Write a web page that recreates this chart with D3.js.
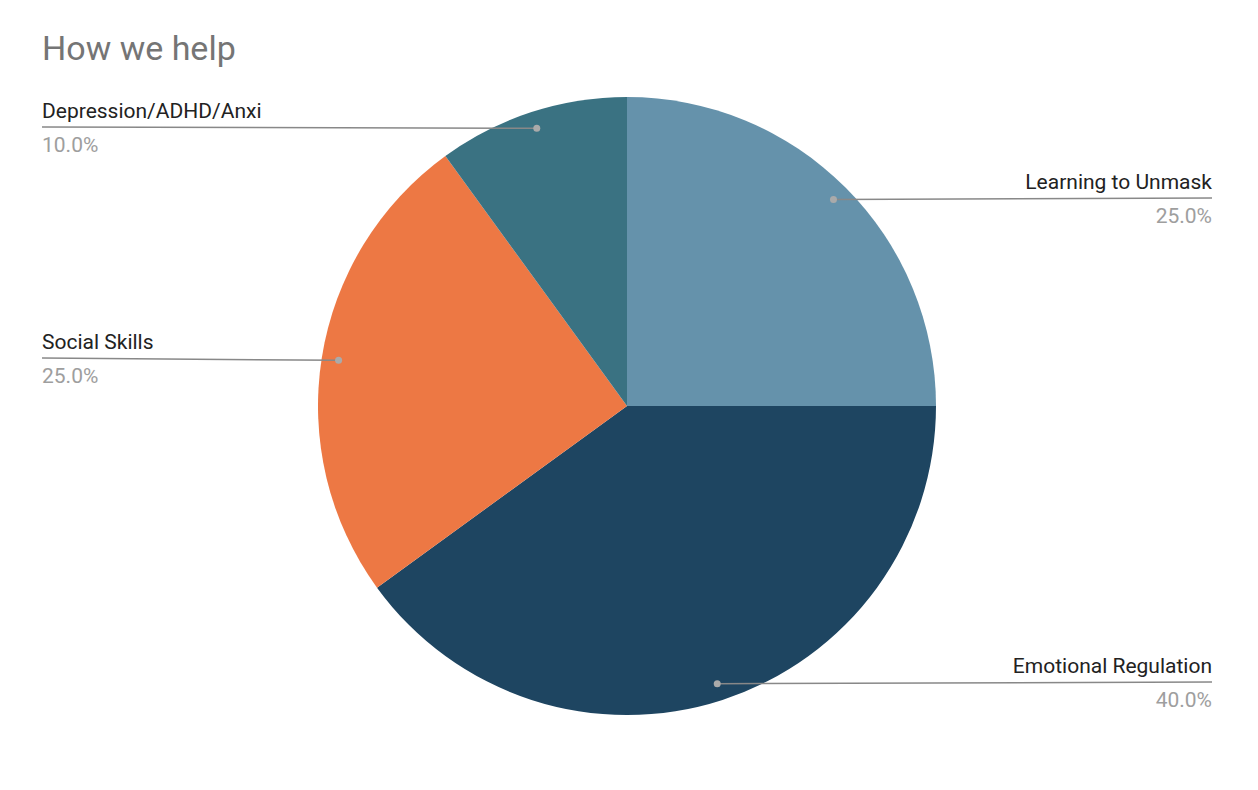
<!DOCTYPE html><html><head><script src="https://cdn.jsdelivr.net/npm/d3@7"></script>
<style>body{margin:0;background:#fff}text{font-family:Roboto,Arial,sans-serif}</style></head><body>
<svg id="c" width="1258" height="790"></svg>
<script>
const categories=["Learning to Unmask","Emotional Regulation","Social Skills","Depression/ADHD/Anxi"];
const values=[25,40,25,10];
const colors=["#6592ab","#1e4561","#ed7844","#3a7282"];
const labelSide=["right","right","left","left"];
const labelLineY=[198,682,358,127];
const svg=d3.select("#c");
svg.append("text").attr("x",42).attr("y",60).attr("font-size",34).attr("fill","#757575").text("How we help");
const cx=627,cy=406,r=309;
const pie=d3.pie().sort(null).value(d=>d)(values);
const arc=d3.arc().innerRadius(0).outerRadius(r);
const g=svg.append("g").attr("transform",`translate(${cx},${cy})`);
g.selectAll("path").data(pie).join("path").attr("d",arc).attr("fill",(d,i)=>colors[i]);
const total=d3.sum(values);
pie.forEach((d,i)=>{
  const a=(d.startAngle+d.endAngle)/2;
  const px=cx+Math.sin(a)*r*0.945, py=cy-Math.cos(a)*r*0.945;
  const right=labelSide[i]==="right";
  const lx=right?1212:42, ly=labelLineY[i];
  svg.append("line").attr("x1",px).attr("y1",py).attr("x2",lx).attr("y2",ly).attr("stroke","#888").attr("stroke-width",1.5);
  svg.append("circle").attr("cx",px).attr("cy",py).attr("r",3.5).attr("fill","#aaa");
  const anchor=right?"end":"start";
  svg.append("text").attr("x",lx).attr("y",ly-9).attr("text-anchor",anchor).attr("font-size",21).attr("fill","#222").text(categories[i]);
  svg.append("text").attr("x",lx).attr("y",ly+25).attr("text-anchor",anchor).attr("font-size",21).attr("fill","#9e9e9e").text((values[i]/total*100).toFixed(1)+"%");
});
</script></body></html>
